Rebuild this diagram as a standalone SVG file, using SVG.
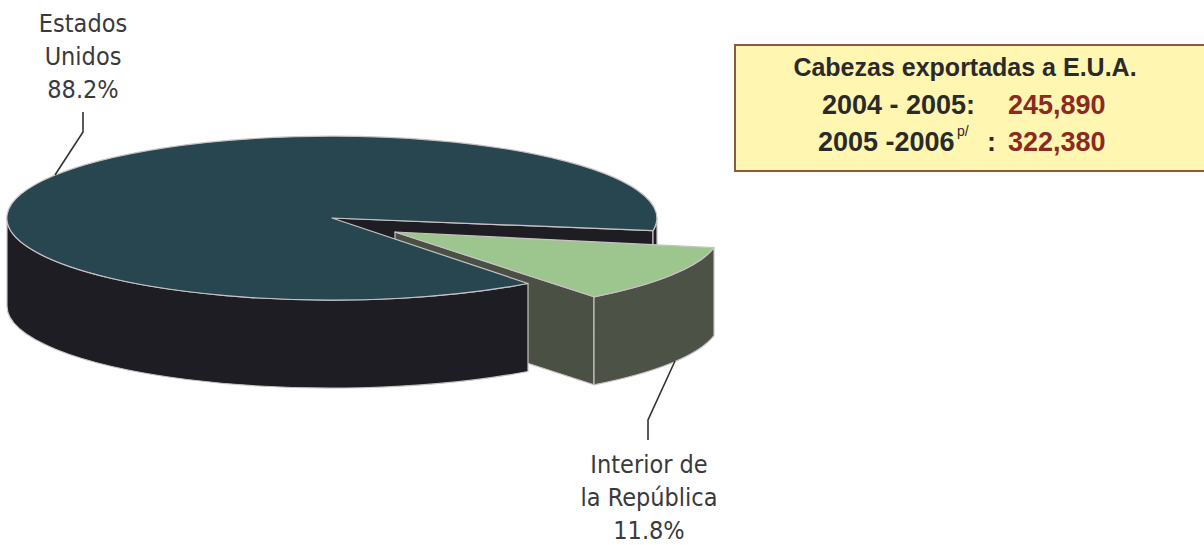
<svg xmlns="http://www.w3.org/2000/svg" width="1204" height="545" viewBox="0 0 1204 545">
<style>
.lbl{font-family:"DejaVu Sans Condensed","DejaVu Sans",sans-serif;font-stretch:condensed;font-size:25px;fill:#3a3a3a;text-anchor:middle}
.box{font-family:"Liberation Sans",Arial,sans-serif;font-weight:bold;fill:#2a2a2a}
.red{fill:#8a2a22}
.edge{stroke:#c9c2c4;stroke-width:1.2;stroke-linejoin:round}
.lead{fill:none;stroke:#333;stroke-width:1.6}
</style>
<rect width="1204" height="545" fill="#ffffff"/>
<g id="pie-main-back">
  <path class="edge" fill="#1f1d24" d="M332,218 L653,230.7 L653,318.7 L332,306 Z"/>
  <path class="edge" fill="#1f1d24" d="M657,218 L657,306 A325,82 0 0 1 653,318.7 L653,230.7 A325,82 0 0 0 657,218 Z"/>
</g>
<g id="pie-wedge">
  <path class="edge" fill="#4b5045" d="M395,232 L594,296.8 L594,384.8 L395,320 Z"/>
  <path class="edge" fill="#4d5247" d="M714,247.7 A325,82 0 0 1 594,296.8 L594,384.8 A325,82 0 0 0 714,335.7 Z"/>
  <path class="edge" fill="#9dc68f" d="M395,232 L714,247.7 A325,82 0 0 1 594,296.8 Z"/>
</g>
<g id="pie-main">
  <path class="edge" fill="#1f1d24" d="M7,218 L7,306 A325,82 0 0 0 528,371.5 L528,283.5 A325,82 0 0 1 7,218 Z"/>
  <path class="edge" fill="#28464f" d="M332,218 L528,283.5 A325,82 0 1 1 653,230.7 Z"/>
</g>
<g id="connectors">
  <polyline class="lead" points="83,112 83,132 55,175"/>
  <polyline class="lead" points="675,361 648,420 648,440"/>
</g>
<g id="label-eu">
  <text class="lbl" x="83" y="32">Estados</text>
  <text class="lbl" x="83" y="65">Unidos</text>
  <text class="lbl" x="83" y="98">88.2%</text>
</g>
<g id="label-interior">
  <text class="lbl" x="649" y="473">Interior de</text>
  <text class="lbl" x="649" y="506">la República</text>
  <text class="lbl" x="649" y="539">11.8%</text>
</g>
<g id="info-box">
  <rect x="735" y="45" width="480" height="126" fill="#fff6b2" stroke="#8a5a3c" stroke-width="2"/>
  <text class="box" x="965" y="76" font-size="25" text-anchor="middle">Cabezas exportadas a E.U.A.</text>
  <text class="box" y="114" font-size="27"><tspan x="822">2004 - 2005:</tspan><tspan class="red" x="1008">245,890</tspan></text>
  <text class="box" y="151" font-size="27"><tspan x="818">2005 -2006</tspan><tspan x="957" y="136" font-size="14" font-weight="normal">p/</tspan><tspan x="987" y="151">:</tspan><tspan class="red" x="1008">322,380</tspan></text>
</g>
</svg>
